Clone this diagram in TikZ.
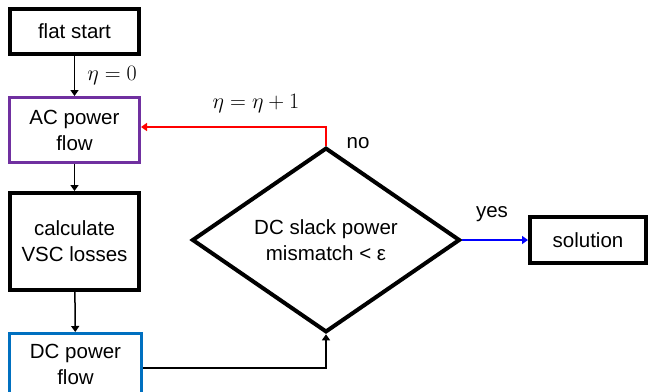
\RequirePackage{fix-cm}
\documentclass[tikz,border=0pt]{standalone}
\usepackage{fontspec}
\setmainfont{Liberation Sans}
\usetikzlibrary{shapes.geometric,arrows.meta}
\definecolor{acpurple}{RGB}{112,48,160}
\definecolor{dcblue}{RGB}{0,112,192}
\begin{document}
\begin{tikzpicture}[x=1pt,y=-1pt,
  font=\fontsize{20.5}{26}\selectfont,
  box/.style={draw=black,line width=4pt,rectangle,align=center,inner sep=0pt},
  conn/.style={line width=1.5pt,-{Triangle[length=6pt,width=8pt]}},
  lbl/.style={inner sep=0pt},
  mathlbl/.style={inner sep=0pt,font=\fontsize{22}{26}\selectfont}]
\useasboundingbox (0,0) rectangle (652,391);
\node[box,minimum width=129pt,minimum height=45pt] (flat) at (74.5,31.5) {flat start};
\node[box,draw=acpurple,line width=3pt,minimum width=130pt,minimum height=65pt] (ac) at (74.5,130) {AC power\\flow};
\node[box,minimum width=129pt,minimum height=97pt] (calc) at (74.5,241.5) {calculate\\VSC losses};
\node[box,draw=dcblue,line width=3pt,minimum width=132pt,minimum height=61pt] (dc) at (75.5,364) {DC power\\flow};
\node[diamond,draw=black,line width=4pt,align=center,inner sep=0pt,minimum width=268pt,minimum height=172pt] (dec) at (326,240) {DC slack power\\mismatch < ε};
\node[box,minimum width=116pt,minimum height=46pt] (sol) at (588,240) {solution};
\coordinate (turn) at (326,127);
\coordinate (corner) at (326,368);
\draw[conn] (flat) -- node[mathlbl,right=12pt,pos=0.5] (eta0) {$\eta=0$} (ac);
\draw[conn] (ac) -- (calc);
\draw[conn] (calc) -- (dc);
\draw[conn] (dc.east |- corner) -- (corner) -- (dec.south);
\draw[conn,red] (dec.north) -- (turn) -- (turn -| ac.east);
\draw[conn,blue] (dec.east) -- (sol.west);
\node[mathlbl] (etainc) at (256,104) {$\eta=\eta+1$};
\node[lbl] (no) at (358,143) {no};
\node[lbl] (yes) at (492,214) {yes};
\end{tikzpicture}
\end{document}
